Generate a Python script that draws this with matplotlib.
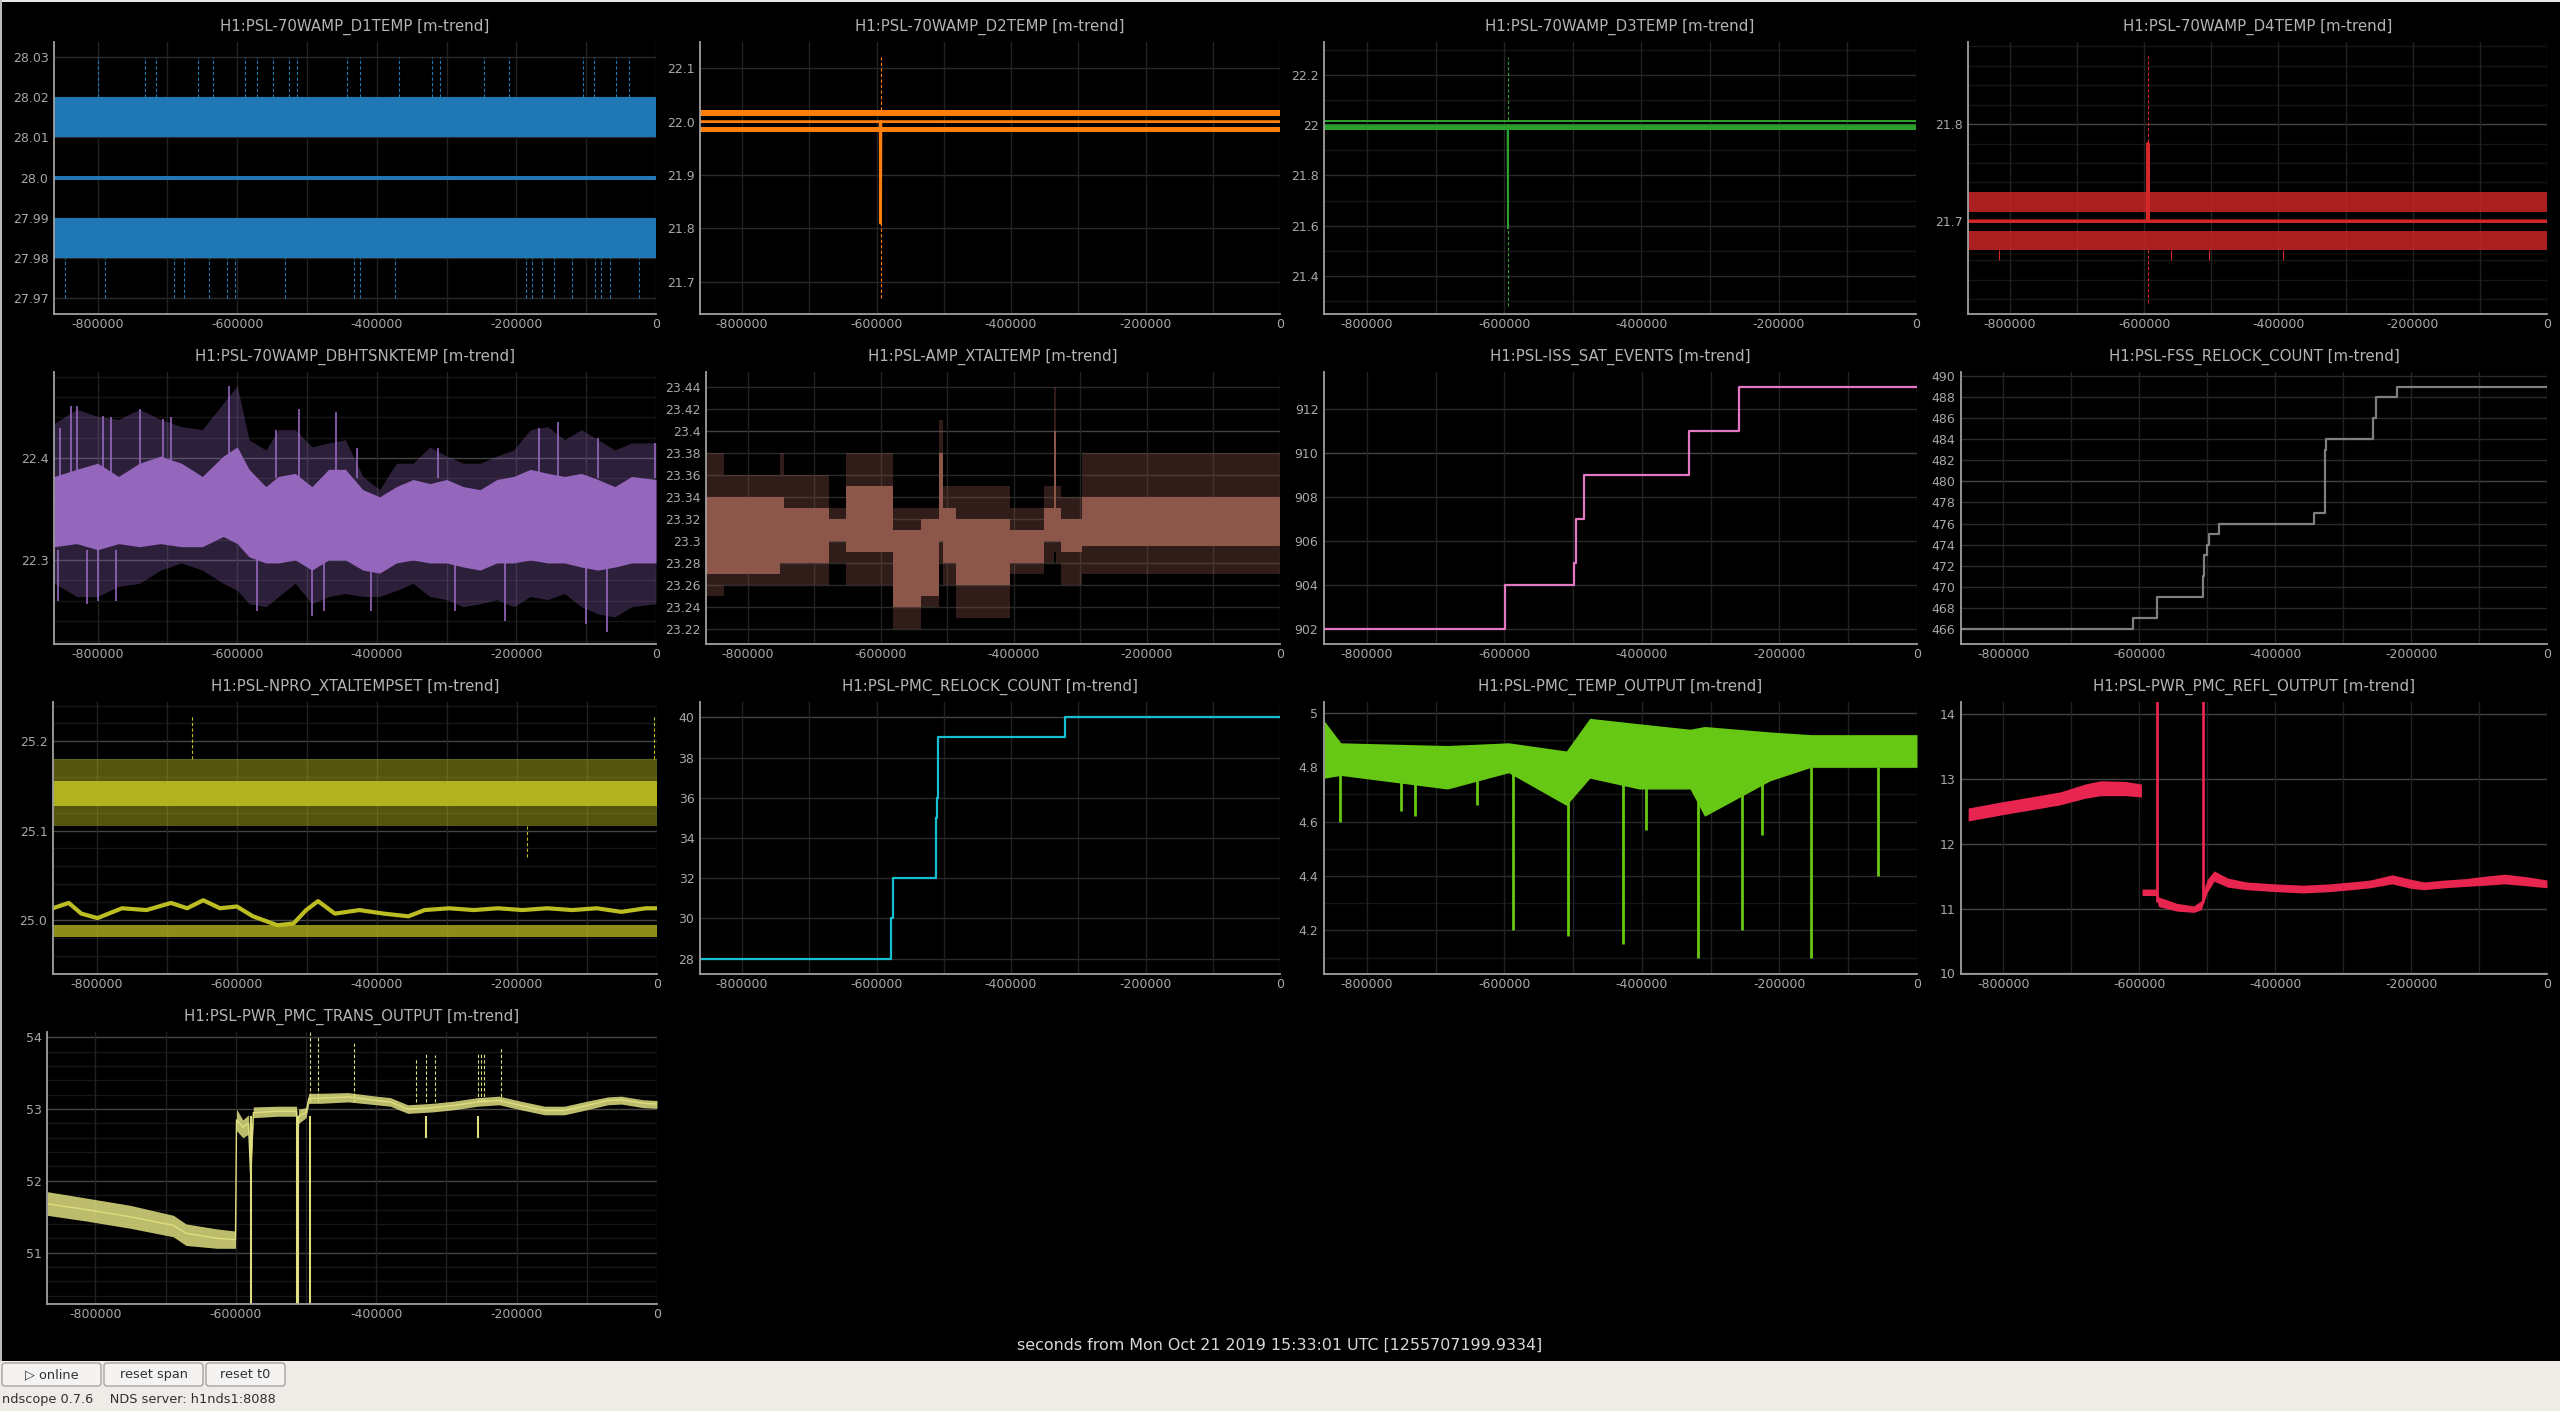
import matplotlib
matplotlib.use("Agg")
import matplotlib.pyplot as plt
from matplotlib.patches import Rectangle, FancyBboxPatch

plt.rcParams['font.family'] = ['DejaVu Sans']

W, H = 2560, 1411
T0 = -862500          # left edge of the shared time axis
T0_TRANS = -869000

x_ticks = [-800000, -600000, -400000, -200000, 0]
x_labels = ['-800000', '-600000', '-400000', '-200000', '0']
x_grid = [-800000, -700000, -600000, -500000, -400000, -300000, -200000, -100000, 0]

# ---------------- D1TEMP ----------------
d1_max_band = [28.01, 28.02]
d1_mean_band = [27.9995, 28.0005]
d1_min_band = [27.98, 27.99]
d1_max_spikes = [-800000, -732000, -715700, -656700, -634300, -589200, -571700, -548200,
                 -526500, -513800, -442800, -424100, -368100, -321100, -309600, -247000,
                 -210200, -104800, -88600, -57800, -39200]
d1_min_spikes = [-847000, -789100, -690300, -675800, -640300, -615000, -603000, -531300,
                 -432500, -424100, -373500, -186700, -177100, -163300, -146400, -120500,
                 -87300, -78900, -66300, -24100]

# ---------------- D2TEMP ----------------
d2_max_band = [22.011, 22.021]
d2_min_band = [21.980, 21.990]
d2_mean_t = [T0, -594500, -594000, -593500, 0]
d2_mean = [22.0, 22.0, 21.81, 22.0, 22.0]
d2_spike_t = -593750
d2_spike_max = 22.12
d2_spike_min = 21.67

# ---------------- D3TEMP ----------------
d3_max_band = [22.012, 22.022]
d3_min_band = [21.980, 21.995]
d3_mean_t = [T0, -595200, -594700, -594200, 0]
d3_mean = [22.0, 22.0, 21.59, 22.0, 22.0]
d3_spike_t = -594700
d3_spike_max = 22.27
d3_spike_min = 21.28

# ---------------- D4TEMP ----------------
d4_max_band = [21.71, 21.73]
d4_min_band = [21.67, 21.69]
d4_mean_t = [T0, -595000, -594500, -594000, 0]
d4_mean = [21.70, 21.70, 21.78, 21.70, 21.70]
d4_spike_t = -594500
d4_spike_max = 21.87
d4_spike_min = 21.616
d4_small_spikes = [-815800, -560600, -504200, -392700]
d4_small_spike_min = 21.66

# ---------------- DBHTSNKTEMP ----------------
hs_t = [-862000, -830000, -800000, -770000, -740000, -710000, -680000, -650000, -620000,
        -600000, -583000, -559000, -541000, -517000, -493000, -469000, -445000, -420000,
        -396000, -372000, -348000, -324000, -300000, -276000, -252000, -228000, -204000,
        -180000, -155000, -131000, -107000, -83000, -59000, -35000, 0]
hs_hi = [22.382, 22.389, 22.395, 22.382, 22.395, 22.402, 22.395, 22.382, 22.402,
         22.411, 22.389, 22.372, 22.382, 22.385, 22.372, 22.389, 22.389, 22.369,
         22.362, 22.372, 22.379, 22.375, 22.379, 22.372, 22.369, 22.379, 22.382,
         22.389, 22.385, 22.382, 22.385, 22.379, 22.372, 22.382, 22.379]
hs_lo = [22.313, 22.316, 22.310, 22.316, 22.313, 22.316, 22.313, 22.313, 22.323,
         22.316, 22.303, 22.297, 22.297, 22.300, 22.290, 22.300, 22.300, 22.290,
         22.287, 22.297, 22.300, 22.297, 22.297, 22.293, 22.290, 22.297, 22.297,
         22.300, 22.297, 22.297, 22.293, 22.290, 22.293, 22.297, 22.297]
hs_max = [22.434, 22.448, 22.441, 22.438, 22.448, 22.438, 22.431, 22.428, 22.454,
          22.471, 22.418, 22.408, 22.428, 22.428, 22.411, 22.415, 22.418, 22.382,
          22.369, 22.395, 22.395, 22.411, 22.402, 22.395, 22.395, 22.402, 22.408,
          22.428, 22.431, 22.418, 22.428, 22.418, 22.408, 22.415, 22.415]
hs_min = [22.277, 22.264, 22.264, 22.274, 22.277, 22.290, 22.297, 22.290, 22.277,
          22.270, 22.257, 22.254, 22.264, 22.277, 22.257, 22.264, 22.267, 22.264,
          22.264, 22.270, 22.277, 22.264, 22.261, 22.254, 22.257, 22.261, 22.254,
          22.264, 22.261, 22.267, 22.254, 22.247, 22.244, 22.254, 22.257]
hs_up_t = [-854000, -838000, -830000, -793000, -781000, -740000, -707000, -695000,
           -612000, -544000, -512000, -459000, -428000, -312000, -167000, -140000,
           -83000, -2000]
hs_up_v = [22.43, 22.451, 22.451, 22.441, 22.44, 22.448, 22.438, 22.44,
           22.471, 22.428, 22.448, 22.445, 22.41, 22.41, 22.43, 22.435,
           22.42, 22.415]
hs_dn_t = [-857000, -815000, -800000, -773000, -571000, -493000, -475000, -408000,
           -288000, -216000, -101000, -70000]
hs_dn_v = [22.26, 22.257, 22.26, 22.26, 22.25, 22.245, 22.25, 22.25,
           22.25, 22.24, 22.237, 22.229]

# ---------------- AMP_XTALTEMP (step segments) ----------------
xt_t = [-862000, -835000, -752000, -745000, -677000, -652000, -582000, -540000, -513000,
        -507000, -487000, -405000, -354000, -340000, -336000, -329000, -297000, 0]
xt_hi = [23.34, 23.34, 23.34, 23.33, 23.32, 23.35, 23.31, 23.32, 23.38,
         23.33, 23.32, 23.31, 23.33, 23.40, 23.33, 23.32, 23.34, 23.34]
xt_lo = [23.27, 23.27, 23.28, 23.28, 23.30, 23.29, 23.24, 23.25, 23.30,
         23.28, 23.26, 23.28, 23.30, 23.30, 23.30, 23.29, 23.295, 23.295]
xt_max = [23.38, 23.36, 23.38, 23.36, 23.33, 23.38, 23.33, 23.33, 23.41,
          23.35, 23.35, 23.33, 23.35, 23.44, 23.35, 23.34, 23.38, 23.38]
xt_min = [23.25, 23.26, 23.26, 23.26, 23.28, 23.26, 23.22, 23.24, 23.28,
          23.26, 23.23, 23.27, 23.28, 23.29, 23.28, 23.26, 23.27, 23.27]

# ---------------- ISS_SAT_EVENTS ----------------
iss_t = [T0, -598800, -499000, -495400, -484700, -331500, -259000, 0]
iss_v = [902, 904, 905, 907, 909, 911, 913, 913]

# ---------------- FSS_RELOCK_COUNT ----------------
fss_t = [T0, -609300, -573600, -507000, -504600, -500000, -497000, -482300, -342700,
         -327300, -326000, -255900, -252300, -221300, 0]
fss_v = [466, 467, 469, 471, 473, 474, 475, 476, 477, 483, 484, 486, 488, 489, 489]

# ---------------- NPRO_XTALTEMPSET ----------------
np_outer = [25.105, 25.18]
np_solid = [25.128, 25.155]
np_min_band = [24.981, 24.994]
np_mean_t = [-863000, -840000, -822000, -799000, -764000, -729000, -694000, -671000,
             -648000, -624000, -600000, -577000, -542000, -519000, -501000, -484000,
             -460000, -425000, -390000, -355000, -332000, -297000, -262000, -227000,
             -192000, -157000, -121000, -86000, -51000, -16000, 0]
np_mean = [25.013, 25.019, 25.007, 25.002, 25.013, 25.011, 25.019, 25.013,
           25.022, 25.013, 25.015, 25.004, 24.994, 24.996, 25.011, 25.021,
           25.007, 25.011, 25.007, 25.004, 25.011, 25.013, 25.011, 25.013,
           25.011, 25.013, 25.011, 25.013, 25.009, 25.013, 25.013]
np_up_t = [-663400, -4700]
np_up_v = [25.23, 25.23]
np_dn_t = [-185700]
np_dn_v = [25.07]

# ---------------- PMC_RELOCK_COUNT ----------------
pmc_t = [T0, -579000, -578000, -575500, -511800, -510500, -509000, -319800, 0]
pmc_v = [28, 29, 30, 32, 35, 36, 39, 40, 40]

# ---------------- PMC_TEMP_OUTPUT ----------------
to_t = [-862000, -838000, -683000, -594000, -510000, -476000, -404000, -330000,
        -309000, -214000, -154000, 0]
to_hi = [4.97, 4.89, 4.88, 4.89, 4.86, 4.98, 4.96, 4.94, 4.95, 4.93, 4.92, 4.92]
to_lo = [4.76, 4.77, 4.72, 4.78, 4.66, 4.76, 4.72, 4.72, 4.62, 4.75, 4.80, 4.80]
to_dip_t = [-839000, -750000, -730000, -640000, -588000, -508000, -428000, -394000,
            -318000, -255000, -225000, -154000, -56000]
to_dip_v = [4.60, 4.64, 4.62, 4.66, 4.20, 4.18, 4.15, 4.57, 4.10, 4.20, 4.55, 4.10, 4.40]

# ---------------- PWR_PMC_REFL_OUTPUT ----------------
refl_t = [-852000, -800000, -760000, -716000, -680000, -657000, -620000, -597000,
          -596000, -575000, -572000, -545000, -520000, -509000, -505000, -500000,
          -490000, -470000, -443000, -400000, -359000, -320000, -288000, -260000,
          -228000, -200000, -181000, -150000, -121000, -90000, -62000, -30000, 0]
refl_max = [12.55, 12.65, 12.72, 12.80, 12.92, 12.97, 12.96, 12.92, 11.30, 11.30, 11.18,
            11.08, 11.04, 11.12, 11.30, 11.45, 11.58, 11.47, 11.41, 11.38, 11.36, 11.38,
            11.41, 11.44, 11.52, 11.45, 11.41, 11.44, 11.46, 11.50, 11.53, 11.49, 11.44]
refl_min = [12.35, 12.45, 12.52, 12.60, 12.70, 12.74, 12.74, 12.72, 11.20, 11.20, 11.03,
            10.96, 10.94, 10.98, 11.10, 11.25, 11.42, 11.33, 11.29, 11.26, 11.24, 11.26,
            11.29, 11.32, 11.38, 11.31, 11.29, 11.32, 11.34, 11.36, 11.38, 11.35, 11.32]
refl_spike_t = [-574000, -507000]
refl_spike_v = [14.3, 14.3]

# ---------------- PWR_PMC_TRANS_OUTPUT ----------------
tr_t = [-869000, -813000, -751000, -689000, -671000, -627000, -600500, -599000, -590000,
        -582000, -579000, -575000, -540000, -513500, -512000, -510500, -500000, -496000,
        -480000, -440000, -400000, -380000, -355000, -320000, -290000, -255000, -225000,
        -194000, -160000, -132000, -100000, -70000, -51000, -20000, 0]
tr_mean = [51.68, 51.60, 51.50, 51.38, 51.27, 51.20, 51.18, 52.85, 52.75, 52.80, 52.10,
           52.95, 52.97, 52.97, 52.40, 52.90, 52.95, 53.15, 53.15, 53.17, 53.12, 53.10,
           53.00, 53.02, 53.05, 53.10, 53.12, 53.05, 52.98, 52.98, 53.05, 53.12, 53.13,
           53.08, 53.07]
tr_max = [51.85, 51.76, 51.66, 51.52, 51.40, 51.33, 51.30, 53.00, 52.85, 52.92, 52.30,
          53.03, 53.04, 53.04, 52.70, 53.00, 53.02, 53.22, 53.22, 53.23, 53.18, 53.16,
          53.06, 53.08, 53.11, 53.16, 53.18, 53.11, 53.04, 53.04, 53.11, 53.17, 53.18,
          53.13, 53.12]
tr_min = [51.52, 51.44, 51.34, 51.22, 51.10, 51.06, 51.06, 52.70, 52.60, 52.65, 51.90,
          52.88, 52.90, 52.90, 52.10, 52.80, 52.88, 53.08, 53.08, 53.10, 53.06, 53.04,
          52.94, 52.96, 52.99, 53.04, 53.06, 52.99, 52.92, 52.92, 52.99, 53.06, 53.07,
          53.02, 53.01]
tr_up_t = [-495000, -483000, -432000, -343600, -329000, -316000, -255000, -251000, -247000, -222000]
tr_up_v = [54.10, 54.00, 53.95, 53.70, 53.80, 53.75, 53.80, 53.80, 53.80, 53.85]
tr_dn_t = [-578500, -513000, -511500, -495000, -329000, -255000]
tr_dn_v = [50.20, 50.20, 50.20, 50.20, 52.60, 52.60]

# ---------------- figure ----------------
fig = plt.figure(figsize=(W / 100, H / 100), dpi=100, facecolor='black')

bg = fig.add_axes([0, 0, 1, 1])
bg.set_xlim(0, W)
bg.set_ylim(H, 0)
bg.axis('off')
bg.add_patch(Rectangle((0, 1361), W, 50, color='#efebe7', lw=0))
bg.add_patch(Rectangle((0, 0), W, 2, color='#e8e6e3', lw=0))
bg.add_patch(Rectangle((0, 0), 2, 1361, color='#bdbbb8', lw=0))

TXT = '#b4b4b4'
TICK = '#a8a8a8'


def panel(box, title, ylim, yticks, ylabels, yminor=(), ymajor=(), xleft=T0):
    l, t, r, b = box
    ax = fig.add_axes([l / W, 1 - b / H, (r - l) / W, (b - t) / H])
    ax.set_facecolor('black')
    ax.set_xlim(xleft, 0)
    ax.set_ylim(*ylim)
    for y in yminor:
        ax.axhline(y, color='#161616', lw=1, zorder=0)
    for y in yticks:
        ax.axhline(y, color='#2a2a2a' if y not in ymajor else '#444444', lw=1, zorder=0)
    for x in x_grid:
        ax.axvline(x, color='#222222', lw=1, zorder=0)
    for s in ['top', 'right']:
        ax.spines[s].set_visible(False)
    for s in ['left', 'bottom']:
        ax.spines[s].set_color('#a0a0a0')
        ax.spines[s].set_linewidth(1.3)
    ax.set_xticks(x_ticks)
    ax.set_xticklabels(x_labels)
    ax.set_yticks(yticks)
    ax.set_yticklabels(ylabels)
    ax.tick_params(length=0, labelsize=9, colors=TICK)
    ax.tick_params(axis='x', pad=3)
    ax.tick_params(axis='y', pad=4)
    fig.text((l + r) / 2 / W, 1 - (t - 15) / H, title, ha='center', va='center',
             color=TXT, fontsize=10.8)
    return ax


def band(ax, lims, color, alpha=1.0, x0=T0):
    ax.fill_between([x0, 0], [lims[0]] * 2, [lims[1]] * 2, color=color, lw=0, alpha=alpha)


DASH = (0, (3, 2))

# row 1
c = '#1f77b4'
ax = panel((54, 42, 656, 314), 'H1:PSL-70WAMP_D1TEMP [m-trend]', (27.9661, 28.0337),
           [27.97, 27.98, 27.99, 28.0, 28.01, 28.02, 28.03],
           ['27.97', '27.98', '27.99', '28.0', '28.01', '28.02', '28.03'])
band(ax, d1_max_band, c)
band(ax, d1_mean_band, c)
band(ax, d1_min_band, c)
ax.vlines(d1_max_spikes, d1_max_band[1], 28.03, color=c, lw=0.8, linestyles=DASH)
ax.vlines(d1_min_spikes, 27.97, d1_min_band[0], color=c, lw=0.8, linestyles=DASH)

c = '#ff7f0e'
ax = panel((700, 42, 1280, 314), 'H1:PSL-70WAMP_D2TEMP [m-trend]', (21.64, 22.149),
           [21.7, 21.8, 21.9, 22.0, 22.1], ['21.7', '21.8', '21.9', '22.0', '22.1'])
band(ax, d2_max_band, c)
band(ax, d2_min_band, c)
ax.plot(d2_mean_t, d2_mean, color=c, lw=2)
ax.vlines(d2_spike_t, d2_max_band[1], d2_spike_max, color=c, lw=0.8, linestyles=DASH)
ax.vlines(d2_spike_t, d2_spike_min, d2_min_band[0], color=c, lw=0.8, linestyles=DASH)

c = '#2ca02c'
ax = panel((1324, 42, 1916, 314), 'H1:PSL-70WAMP_D3TEMP [m-trend]', (21.25, 22.33),
           [21.4, 21.6, 21.8, 22.0, 22.2], ['21.4', '21.6', '21.8', '22', '22.2'],
           yminor=[21.3, 21.5, 21.7, 21.9, 22.1, 22.3])
band(ax, d3_max_band, c)
band(ax, d3_min_band, c)
ax.plot(d3_mean_t, d3_mean, color=c, lw=1.2)
ax.vlines(d3_spike_t, d3_max_band[1], d3_spike_max, color=c, lw=0.8, linestyles=DASH)
ax.vlines(d3_spike_t, d3_spike_min, d3_min_band[0], color=c, lw=0.8, linestyles=DASH)

c = '#d62728'
ax = panel((1968, 42, 2547, 314), 'H1:PSL-70WAMP_D4TEMP [m-trend]', (21.6045, 21.8845),
           [21.7, 21.8], ['21.7', '21.8'],
           yminor=[21.62, 21.64, 21.66, 21.68, 21.72, 21.74, 21.76, 21.78, 21.82,
                   21.84, 21.86, 21.88], ymajor=[21.7, 21.8])
band(ax, d4_max_band, c, alpha=0.8)
band(ax, d4_min_band, c, alpha=0.8)
ax.plot(d4_mean_t, d4_mean, color=c, lw=2.5)
ax.vlines(d4_spike_t, d4_max_band[1], d4_spike_max, color=c, lw=0.8, linestyles=DASH)
ax.vlines(d4_spike_t, d4_spike_min, d4_min_band[0], color=c, lw=0.8, linestyles=DASH)
ax.vlines(d4_small_spikes, d4_small_spike_min, d4_min_band[0], color=c, lw=0.8)

# row 2
c = '#9467bd'
ax = panel((54, 372, 656, 644), 'H1:PSL-70WAMP_DBHTSNKTEMP [m-trend]', (22.2174, 22.4846),
           [22.3, 22.4], ['22.3', '22.4'],
           yminor=[22.22, 22.24, 22.26, 22.28, 22.32, 22.34, 22.36, 22.38, 22.42,
                   22.44, 22.46, 22.48], ymajor=[22.3, 22.4])
ax.fill_between(hs_t, hs_min, hs_max, color=c, lw=0, alpha=0.3)
ax.fill_between(hs_t, hs_lo, hs_hi, color=c, lw=0)
ax.vlines(hs_up_t, 22.38, hs_up_v, color=c, lw=1.2)
ax.vlines(hs_dn_t, hs_dn_v, 22.31, color=c, lw=1.2)

c = '#8c564b'
ax = panel((706, 372, 1280, 644), 'H1:PSL-AMP_XTALTEMP [m-trend]', (23.206, 23.454),
           [23.22, 23.24, 23.26, 23.28, 23.3, 23.32, 23.34, 23.36, 23.38, 23.4, 23.42, 23.44],
           ['23.22', '23.24', '23.26', '23.28', '23.3', '23.32', '23.34', '23.36', '23.38',
            '23.4', '23.42', '23.44'], ymajor=[23.3, 23.4])
ax.fill_between(xt_t, xt_min, xt_max, step='post', color=c, lw=0, alpha=0.35)
ax.fill_between(xt_t, xt_lo, xt_hi, step='post', color=c, lw=0)

c = '#e377c2'
ax = panel((1324, 372, 1917, 644), 'H1:PSL-ISS_SAT_EVENTS [m-trend]', (901.3, 913.7),
           [902, 904, 906, 908, 910, 912], ['902', '904', '906', '908', '910', '912'],
           ymajor=[910])
ax.plot(iss_t, iss_v, drawstyle='steps-post', color=c, lw=1.6)

c = '#7f7f7f'
ax = panel((1961, 372, 2547, 644), 'H1:PSL-FSS_RELOCK_COUNT [m-trend]', (464.54, 490.41),
           list(range(466, 491, 2)), [str(v) for v in range(466, 491, 2)], ymajor=[480])
ax.plot(fss_t, fss_v, drawstyle='steps-post', color=c, lw=1.6)

# row 3
c = '#bcbd22'
ax = panel((53, 702, 657, 974), 'H1:PSL-NPRO_XTALTEMPSET [m-trend]', (24.9394, 25.244),
           [25.0, 25.1, 25.2], ['25.0', '25.1', '25.2'],
           yminor=[24.94, 24.96, 24.98, 25.02, 25.04, 25.06, 25.08, 25.12, 25.14,
                   25.16, 25.18, 25.22, 25.24], ymajor=[25.0, 25.1, 25.2])
band(ax, np_outer, c, alpha=0.45)
band(ax, np_solid, c, alpha=0.9)
band(ax, np_min_band, c, alpha=0.75)
ax.plot(np_mean_t, np_mean, color=c, lw=3)
ax.vlines(np_up_t, np_outer[1], np_up_v, color=c, lw=0.8, linestyles=DASH)
ax.vlines(np_dn_t, np_dn_v, np_outer[0], color=c, lw=0.8, linestyles=DASH)

c = '#17becf'
ax = panel((700, 702, 1280, 974), 'H1:PSL-PMC_RELOCK_COUNT [m-trend]', (27.24, 40.76),
           [28, 30, 32, 34, 36, 38, 40], ['28', '30', '32', '34', '36', '38', '40'],
           ymajor=[40])
ax.plot(pmc_t, pmc_v, drawstyle='steps-post', color=c, lw=1.6)

c = '#66c814'
ax = panel((1324, 702, 1917, 974), 'H1:PSL-PMC_TEMP_OUTPUT [m-trend]', (4.04, 5.04),
           [4.2, 4.4, 4.6, 4.8, 5.0], ['4.2', '4.4', '4.6', '4.8', '5'],
           yminor=[4.1, 4.3, 4.5, 4.7, 4.9], ymajor=[5.0])
ax.fill_between(to_t, to_lo, to_hi, color=c, lw=0)
ax.vlines(to_dip_t, to_dip_v, 4.8, color=c, lw=2)

c = '#e8254f'
ax = panel((1961, 702, 2547, 974), 'H1:PSL-PWR_PMC_REFL_OUTPUT [m-trend]', (9.99, 14.185),
           [10, 11, 12, 13, 14], ['10', '11', '12', '13', '14'],
           ymajor=[10, 11, 12, 13, 14])
ax.fill_between(refl_t, refl_min, refl_max, color=c, lw=0)
ax.vlines(refl_spike_t, 11.1, refl_spike_v, color=c, lw=2)

# row 4
c = '#dede80'
ax = panel((47, 1032, 657, 1304), 'H1:PSL-PWR_PMC_TRANS_OUTPUT [m-trend]', (50.284, 54.074),
           [51, 52, 53, 54], ['51', '52', '53', '54'],
           yminor=[50.4, 50.6, 50.8, 51.2, 51.4, 51.6, 51.8, 52.2, 52.4, 52.6, 52.8,
                   53.2, 53.4, 53.6, 53.8, 54.0], ymajor=[51, 52, 53, 54], xleft=T0_TRANS)
ax.fill_between(tr_t, tr_min, tr_max, color=c, lw=0, alpha=0.85)
ax.plot(tr_t, tr_mean, color=c, lw=1)
ax.vlines(tr_up_t, 53.1, tr_up_v, color=c, lw=0.8, linestyles=DASH)
ax.vlines(tr_dn_t, tr_dn_v, 52.9, color=c, lw=1.5)

fig.text(1280 / W, 1 - 1345 / H, 'seconds from Mon Oct 21 2019 15:33:01 UTC [1255707199.9334]',
         ha='center', va='center', color='#d8d8d8', fontsize=11.4)

# toolbar
buttons = [('\u25b7 online', 2, 101), ('reset span', 104, 203), ('reset t0', 206, 285)]
for label, x0, x1 in buttons:
    bg.add_patch(FancyBboxPatch((x0, 1363), x1 - x0, 23, boxstyle='round,pad=0,rounding_size=3',
                                fc='#f4f3f2', ec='#a6a4a1', lw=1))
    bg.text((x0 + x1) / 2, 1374.5, label, ha='center', va='center', color='#303030', fontsize=9.3)
bg.text(2, 1400, 'ndscope 0.7.6    NDS server: h1nds1:8088', ha='left', va='center',
        color='#303030', fontsize=9.3)

fig.savefig('out.png', dpi=100, facecolor='black')
